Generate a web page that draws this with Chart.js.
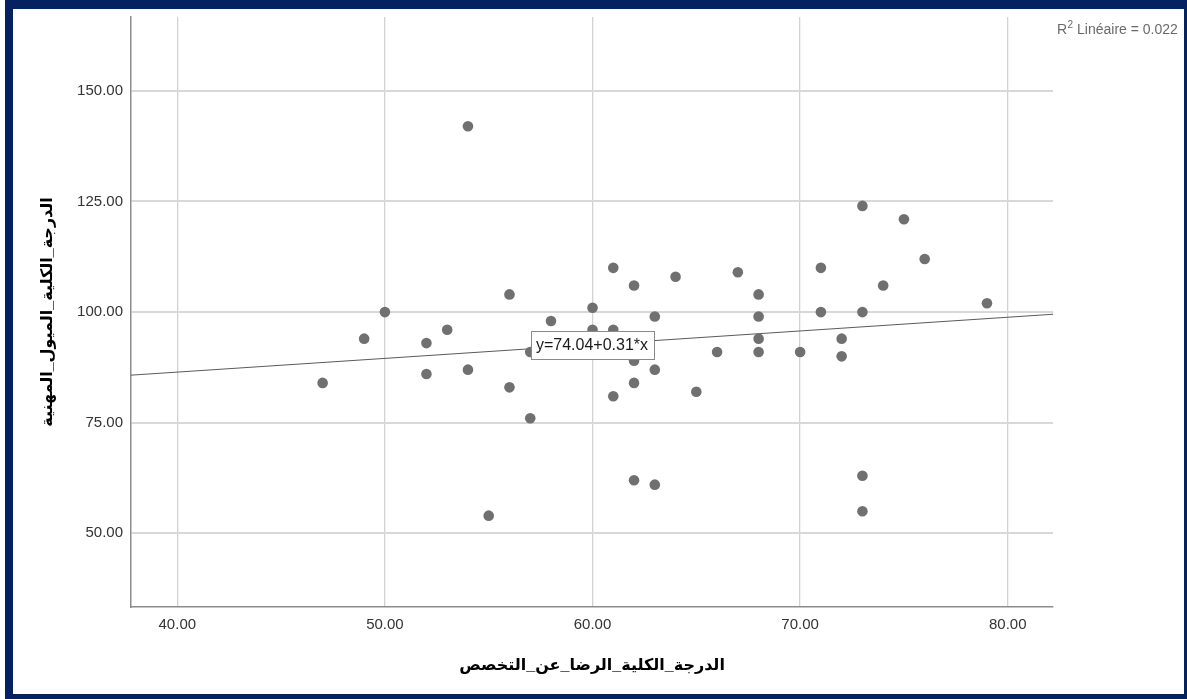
<!DOCTYPE html>
<html>
<head>
<meta charset="utf-8">
<script src="https://cdn.jsdelivr.net/npm/chart.js@4/dist/chart.umd.min.js"></script>
<style>
  html, body { margin: 0; padding: 0; background: #ffffff; }
  canvas { display: block; }
</style>
</head>
<body>
<canvas id="c" width="1187" height="699"></canvas>
<script>
// ---- data ----
const satisfaction = [47, 49, 50, 52, 52, 53, 54, 54, 55, 56, 56, 57, 57, 58, 60, 60, 61, 61, 61, 62, 62, 62, 62, 63, 63, 63, 64, 65, 66, 67, 68, 68, 68, 68, 70, 71, 71, 72, 72, 73, 73, 73, 73, 74, 75, 76, 79];
const interests    = [84, 94, 100, 93, 86, 96, 87, 142, 54, 104, 83, 91, 76, 98, 101, 96, 110, 96, 81, 106, 89, 84, 62, 99, 87, 61, 108, 82, 91, 109, 104, 99, 94, 91, 91, 110, 100, 94, 90, 124, 100, 63, 55, 106, 121, 112, 102];
const xTicks = [40, 50, 60, 70, 80];
const yTicks = [50, 75, 100, 125, 150];
const xRange = [37.77, 82.18];
const yRange = [33.35, 166.7];
const fitIntercept = [74.04];
const fitSlope = [0.31];
const fitLabel = ["y=74.04+0.31*x"];
const r2Label = ["R", "2", " Linéaire = 0.022"];
const xTitle = "الدرجة_الكلية_الرضا_عن_التخصص";
const yTitle = "الدرجة_الكلية_الميول_المهنية";

const points = satisfaction.map((v, i) => ({ x: v, y: interests[i] }));
const fitLine = xRange.map(x => ({ x: x, y: fitIntercept[0] + fitSlope[0] * x }));

const FONT = "Arial, 'Liberation Sans', 'DejaVu Sans', sans-serif";

const framePlugin = {
  id: 'frame',
  beforeDraw(chart) {
    const ctx = chart.ctx;
    ctx.save();
    ctx.fillStyle = '#ffffff';
    ctx.fillRect(0, 0, chart.width, chart.height);
    ctx.fillStyle = '#06215f';
    ctx.fillRect(5, 0, chart.width - 5, chart.height);
    ctx.fillStyle = '#ffffff';
    ctx.fillRect(13, 9, 1184 - 13, 694 - 9);
    ctx.restore();
  },
  afterDraw(chart) {
    const ctx = chart.ctx;
    const xs = chart.scales.x, ys = chart.scales.y;
    // regression label box centered on the line at the middle of the x axis
    const xm = (xs.min + xs.max) / 2;
    const px = xs.getPixelForValue(xm);
    const py = ys.getPixelForValue(fitIntercept[0] + fitSlope[0] * xm);
    ctx.save();
    ctx.font = '16px ' + FONT;
    const w = 123, h = 28;
    ctx.fillStyle = '#ffffff';
    ctx.fillRect(Math.round(px - w / 2) + 0.5, Math.round(py - h / 2) + 0.5, w, h);
    ctx.strokeStyle = '#8a8a8a';
    ctx.lineWidth = 1;
    ctx.strokeRect(Math.round(px - w / 2) + 0.5, Math.round(py - h / 2) + 0.5, w, h);
    ctx.fillStyle = '#1a1a1a';
    ctx.textAlign = 'center';
    ctx.textBaseline = 'middle';
    ctx.fillText(fitLabel[0], px, py + 1);
    // R2 label top right
    ctx.fillStyle = '#6a6a6a';
    ctx.textAlign = 'left';
    ctx.textBaseline = 'alphabetic';
    let x0 = 1057, y0 = 34;
    ctx.font = '14px ' + FONT;
    ctx.fillText(r2Label[0], x0, y0);
    x0 += ctx.measureText(r2Label[0]).width;
    ctx.font = '10px ' + FONT;
    ctx.fillText(r2Label[1], x0 + 0.5, y0 - 6);
    x0 += ctx.measureText(r2Label[1]).width + 0.5;
    ctx.font = '14px ' + FONT;
    ctx.fillText(r2Label[2], x0, y0);
    ctx.restore();
  }
};

new Chart(document.getElementById('c'), {
  type: 'scatter',
  data: {
    datasets: [
      {
        type: 'line',
        data: fitLine,
        borderColor: '#5a5a5a',
        borderWidth: 1,
        pointRadius: 0,
        fill: false,
        order: 2
      },
      {
        data: points,
        backgroundColor: '#707070',
        borderWidth: 0,
        pointRadius: 5.3,
        pointHoverRadius: 5.3,
        order: 1
      }
    ]
  },
  options: {
    responsive: false,
    animation: false,
    devicePixelRatio: 1,
    layout: { padding: { left: 13, top: 15, right: 134, bottom: 5 } },
    plugins: {
      legend: { display: false },
      tooltip: { enabled: false }
    },
    scales: {
      x: {
        type: 'linear',
        min: xRange[0],
        max: xRange[1],
        afterBuildTicks: s => { s.ticks = xTicks.map(v => ({ value: v })); },
        afterFit: s => { s.height = 87; },
        grid: { color: '#d2d2d2', lineWidth: 1.3, drawTicks: false },
        border: { display: true, color: '#8c8c8c', width: 1.5 },
        ticks: {
          padding: 9,
          color: '#333333',
          font: { family: FONT, size: 15 },
          maxRotation: 0,
          callback: v => Number(v).toFixed(2)
        },
        title: {
          display: true,
          text: xTitle,
          color: '#000000',
          font: { family: FONT, size: 16, weight: 'bold' },
          padding: { top: 0, bottom: 19 }
        }
      },
      y: {
        type: 'linear',
        min: yRange[0],
        max: yRange[1],
        afterBuildTicks: s => { s.ticks = yTicks.map(v => ({ value: v })); },
        afterFit: s => { s.width = 118; },
        grid: { color: '#d8d8d8', lineWidth: 2, drawTicks: false },
        border: { display: true, color: '#8c8c8c', width: 1.5 },
        ticks: {
          padding: 8,
          color: '#333333',
          font: { family: FONT, size: 15 },
          callback: v => Number(v).toFixed(2)
        },
        title: {
          display: true,
          text: yTitle,
          color: '#000000',
          font: { family: FONT, size: 16, weight: 'bold' },
          padding: { top: 25, bottom: 0 }
        }
      }
    }
  },
  plugins: [framePlugin]
});
</script>
</body>
</html>
